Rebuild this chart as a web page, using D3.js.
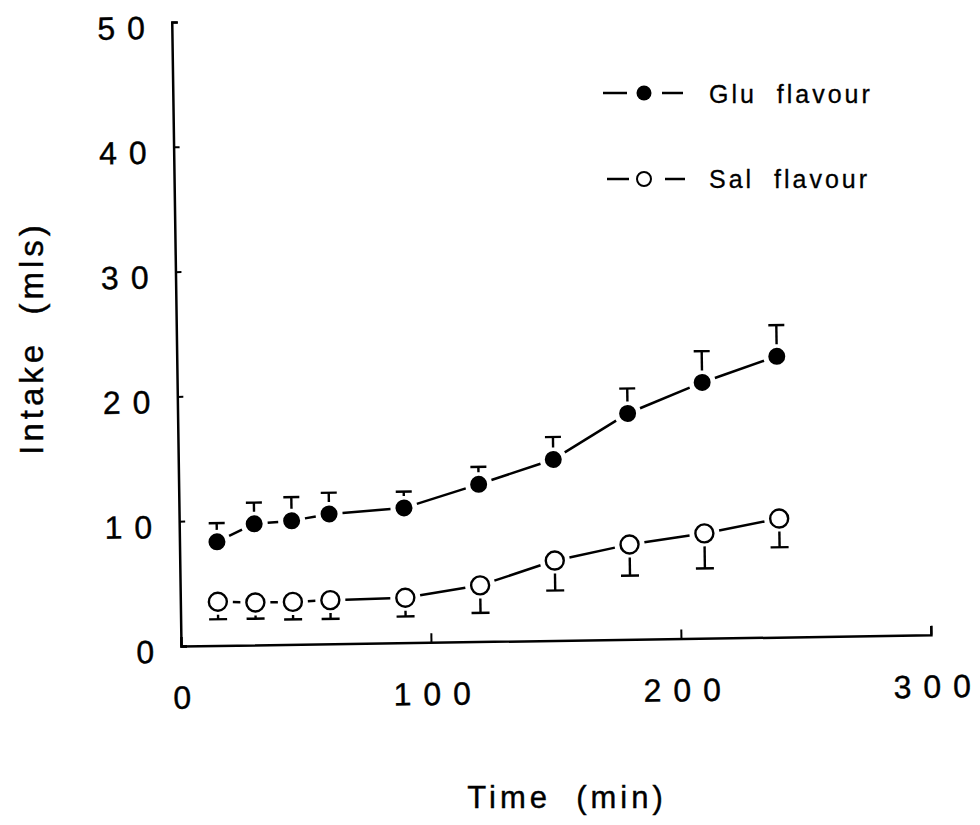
<!DOCTYPE html>
<html><head><meta charset="utf-8">
<script src="https://cdn.jsdelivr.net/npm/d3@7"></script>
<style>body{margin:0;background:#fff}svg{display:block}</style>
</head><body>
<svg id="c" width="980" height="825"></svg>
<script>
const times = [15, 30, 45, 60, 90, 120, 150, 180, 210, 240];
const gluMean = [8.3, 9.7, 9.9, 10.4, 10.8, 12.6, 14.5, 18.1, 20.5, 22.5];
const gluUpper = [9.8, 11.4, 11.8, 12.1, 12.1, 14.0, 16.3, 20.1, 23.0, 25.0];
const salMean = [3.5, 3.4, 3.4, 3.5, 3.6, 4.5, 6.4, 7.6, 8.4, 9.5];
const salLower = [2.1, 2.1, 2.0, 2.0, 2.1, 2.3, 4.0, 5.1, 5.6, 7.2];
const xTicks = [0, 100, 200, 300];
const yTicks = [0, 10, 20, 30, 40, 50];
const legendLabels = ["Glu flavour", "Sal flavour"];
const xTitle = "Time  (min)";
const yTitle = "Intake  (mls)";

const svg = d3.select("#c");
const font = "'Liberation Sans', Arial, sans-serif";
const x = d3.scaleLinear().domain([0, 300]).range([181, 931]);
const y = d3.scaleLinear().domain([0, 50]).range([646, 22]);

// the scanned figure is slightly rotated
const plot = svg.append("g").attr("transform", "rotate(-0.85,181,646)");

const tickLS = 12;
const gy = plot.append("g").attr("transform", `translate(${x(0)},0)`)
  .call(d3.axisLeft(y).tickValues(yTicks).tickSize(-6).tickPadding(27).tickFormat(d => d));
const gx = plot.append("g").attr("transform", `translate(0,${y(0)})`)
  .call(d3.axisBottom(x).tickValues(xTicks).tickSize(-9).tickPadding(40).tickFormat(d => d));
[gy, gx].forEach(g => {
  g.select(".domain").attr("stroke", "#000").attr("stroke-width", 2.5);
  g.selectAll(".tick line").attr("stroke", "#000").attr("stroke-width", 2);
  g.selectAll(".tick text").attr("fill", "#000").attr("stroke", "#000").attr("stroke-width", 0.4)
    .style("font-family", font).style("font-size", "32px")
    .each(function (d) {
      const t = d3.select(this), s = String(d);
      t.text(null);
      s.split("").forEach((ch, i) => t.append("tspan").attr("dx", i ? tickLS : 0).text(ch));
    });
});
gy.selectAll(".tick text").attr("dy", "0.5em");
gx.selectAll(".tick text").attr("dx", 2);

// connecting segments with gaps
function segments(vals, r) {
  const g = plot.append("g").attr("stroke", "#000").attr("stroke-width", 2.5);
  for (let i = 0; i < vals.length - 1; i++) {
    const x1 = x(times[i]), y1 = y(vals[i]), x2 = x(times[i + 1]), y2 = y(vals[i + 1]);
    const dx = x2 - x1, dy = y2 - y1, L = Math.hypot(dx, dy), off = r + 5;
    g.append("line")
      .attr("x1", x1 + dx / L * off).attr("y1", y1 + dy / L * off)
      .attr("x2", x2 - dx / L * off).attr("y2", y2 - dy / L * off);
  }
}
segments(gluMean, 8.5);
segments(salMean, 10);

// error bars (upper for Glu, lower for Sal)
const eb = plot.append("g").attr("stroke", "#000").attr("stroke-width", 2.4);
times.forEach((t, i) => {
  const cx = x(t);
  eb.append("line").attr("x1", cx).attr("x2", cx).attr("y1", y(gluMean[i]) - 12).attr("y2", y(gluUpper[i]));
  eb.append("line").attr("x1", cx - 8).attr("x2", cx + 8).attr("y1", y(gluUpper[i])).attr("y2", y(gluUpper[i]));
  eb.append("line").attr("x1", cx).attr("x2", cx).attr("y1", y(salMean[i]) + 13).attr("y2", y(salLower[i]));
  eb.append("line").attr("x1", cx - 9).attr("x2", cx + 9).attr("y1", y(salLower[i])).attr("y2", y(salLower[i]));
});

// markers
plot.append("g").selectAll("circle").data(times).join("circle")
  .attr("cx", d => x(d)).attr("cy", (d, i) => y(gluMean[i])).attr("r", 8.5).attr("fill", "#000");
plot.append("g").selectAll("circle").data(times).join("circle")
  .attr("cx", d => x(d)).attr("cy", (d, i) => y(salMean[i])).attr("r", 9)
  .attr("fill", "#fff").attr("stroke", "#000").attr("stroke-width", 2.4);

// titles
svg.append("text").attr("x", 567).attr("y", 808).attr("text-anchor", "middle")
  .attr("stroke", "#000").attr("stroke-width", 0.4)
  .style("font-family", font).style("font-size", "31px").style("letter-spacing", "4px")
  .attr("xml:space", "preserve").text(xTitle);
svg.append("text").attr("transform", "translate(43,338) rotate(-90)").attr("text-anchor", "middle")
  .attr("stroke", "#000").attr("stroke-width", 0.4)
  .style("font-family", font).style("font-size", "33px").style("letter-spacing", "4px")
  .attr("xml:space", "preserve").text(yTitle);

// legend
const leg = svg.append("g");
[[93, 103, true, 603, 627, 662, 683], [179, 188, false, 607, 629, 665, 685]].forEach(([ly, tb, filled, a1, a2, b1, b2], i) => {
  leg.append("line").attr("x1", a1).attr("x2", a2).attr("y1", ly).attr("y2", ly).attr("stroke", "#000").attr("stroke-width", 2.5);
  leg.append("line").attr("x1", b1).attr("x2", b2).attr("y1", ly).attr("y2", ly).attr("stroke", "#000").attr("stroke-width", 2.5);
  leg.append("circle").attr("cx", 644).attr("cy", ly).attr("r", filled ? 7.5 : 7)
    .attr("fill", filled ? "#000" : "#fff").attr("stroke", "#000").attr("stroke-width", filled ? 0 : 2);
  leg.append("text").attr("x", 709).attr("y", tb).attr("stroke", "#000").attr("stroke-width", 0.3)
    .style("font-family", font)
    .style("font-size", "25px").style("letter-spacing", "3px").attr("xml:space", "preserve")
    .text(legendLabels[i].replace(" ", "  "));
});
</script>
</body></html>
